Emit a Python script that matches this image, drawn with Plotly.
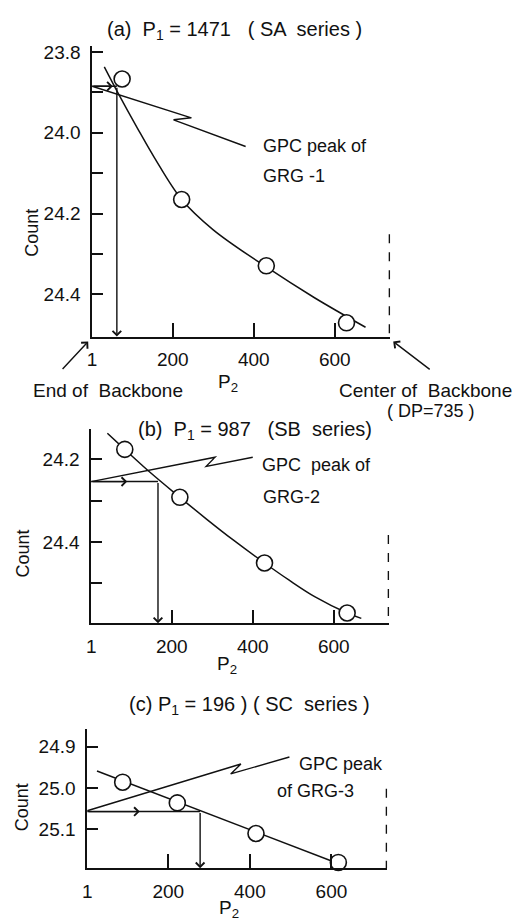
import plotly.graph_objects as go

# ---------------- data ----------------
# Panel (a)  P1 = 1471 (SA series)
a_p2 = [75, 222, 431, 629]
a_count = [23.867, 24.165, 24.329, 24.47]
a_curve_p2 = [31, 64, 113, 155, 222, 300, 431, 550, 676]
a_curve_count = [23.837, 23.900, 23.989, 24.062, 24.165, 24.240, 24.332, 24.408, 24.481]
a_peak_count = 23.885
a_peak_p2 = 62
a_leader_p2 = [1, 246, 202, 380]
a_leader_count = [23.885, 23.963, 23.968, 24.034]
a_yticks = [23.8, 23.9, 24.0, 24.1, 24.2, 24.3, 24.4]
a_yticktext = ["23.8", "", "24.0", "", "24.2", "", "24.4"]

# Panel (b)  P1 = 987 (SB series)
b_p2 = [84, 220, 429, 633]
b_count = [24.176, 24.292, 24.451, 24.572]
b_curve_p2 = [41, 84, 147, 220, 285, 350, 429, 489, 554, 633, 668]
b_curve_count = [24.137, 24.176, 24.232, 24.292, 24.344, 24.394, 24.451, 24.492, 24.533, 24.572, 24.585]
b_peak_count = 24.254
b_peak_p2 = 166
b_leader_p2 = [1, 307, 285, 400]
b_leader_count = [24.254, 24.195, 24.217, 24.195]
b_yticks = [24.2, 24.3, 24.4, 24.5]
b_yticktext = ["24.2", "", "24.4", ""]

# Panel (c)  P1 = 196 (SC series)
c_p2 = [88, 222, 415, 617]
c_count = [24.986, 25.036, 25.11, 25.18]
c_curve_p2 = [25, 610]
c_curve_count = [24.959, 25.18]
c_peak_count = 25.057
c_peak_p2 = 278
c_leader_p2 = [1, 378, 353, 497]
c_leader_count = [25.055, 24.942, 24.966, 24.925]
c_yticks = [24.9, 25.0, 25.1]
c_yticktext = ["24.9", "25.0", "25.1"]

x_ticks = [1, 200, 400, 600]
x_ticktext = ["1", "200", "400", "600"]
dp_center = 735

# ---------------- layout helpers ----------------
W, H = 517, 923
def px(x): return x / W
def py(y): return 1 - y / H

FONT = "Liberation Sans"
BLACK = "#111111"

panels = [
    dict(s="", p2=a_p2, cnt=a_count, cp2=a_curve_p2, ccnt=a_curve_count,
         pk=a_peak_count, pkx=a_peak_p2, lx=a_leader_p2, ly=a_leader_count,
         yt=a_yticks, ytt=a_yticktext, xdom=(88, 389), ydom=(334, 42),
         yr=[24.504, 23.785], dash_top=24.251, spline=True, arrow_mid=52),
    dict(s="2", p2=b_p2, cnt=b_count, cp2=b_curve_p2, ccnt=b_curve_count,
         pk=b_peak_count, pkx=b_peak_p2, lx=b_leader_p2, ly=b_leader_count,
         yt=b_yticks, ytt=b_yticktext, xdom=(87, 388), ydom=(622, 427),
         yr=[24.597, 24.127], dash_top=24.383, spline=True, arrow_mid=90),
    dict(s="3", p2=c_p2, cnt=c_count, cp2=c_curve_p2, ccnt=c_curve_count,
         pk=c_peak_count, pkx=c_peak_p2, lx=c_leader_p2, ly=c_leader_count,
         yt=c_yticks, ytt=c_yticktext, xdom=(83, 386), ydom=(868, 728),
         yr=[25.194, 24.857], dash_top=25.002, spline=False, arrow_mid=130),
]

fig = go.Figure()
shapes = []
annotations = []
layout = {}

for p in panels:
    s = p["s"]
    xa, ya = "x" + s, "y" + s
    fig.add_trace(go.Scatter(
        x=p["cp2"], y=p["ccnt"], mode="lines", xaxis=xa, yaxis=ya,
        line=dict(color=BLACK, width=1.5, shape="spline" if p["spline"] else "linear", smoothing=1.0),
        hoverinfo="skip", showlegend=False))
    fig.add_trace(go.Scatter(
        x=p["p2"], y=p["cnt"], mode="markers", xaxis=xa, yaxis=ya, cliponaxis=False,
        marker=dict(symbol="circle", size=16, color="white", line=dict(color=BLACK, width=1.6)),
        showlegend=False))

    layout["xaxis" + s] = dict(
        domain=[px(p["xdom"][0]), px(p["xdom"][1])], range=[1, 737], anchor=ya,
        tickvals=x_ticks, ticktext=x_ticktext, ticks="inside", ticklen=14, tickwidth=1.5,
        tickcolor=BLACK, showline=True, linecolor=BLACK, linewidth=1.6,
        showgrid=False, zeroline=False, ticklabelstandoff=5,
        tickfont=dict(family=FONT, size=19, color=BLACK))
    layout["yaxis" + s] = dict(
        domain=[py(p["ydom"][0]), py(p["ydom"][1])], range=p["yr"], anchor=xa,
        tickvals=p["yt"], ticktext=p["ytt"], ticks="inside", ticklen=11, tickwidth=1.5,
        tickcolor=BLACK, showline=True, linecolor=BLACK, linewidth=1.6,
        showgrid=False, zeroline=False, ticklabelstandoff=6,
        tickfont=dict(family=FONT, size=19, color=BLACK))

    # horizontal read line from the axis to the curve
    shapes.append(dict(type="line", xref=xa, yref=ya, x0=1, x1=p["pkx"], y0=p["pk"], y1=p["pk"],
                       line=dict(color=BLACK, width=1.5)))
    # arrowhead in the middle of the horizontal line
    annotations.append(dict(xref=xa, yref=ya, axref=xa, ayref=ya, x=p["arrow_mid"], y=p["pk"],
                            ax=1, ay=p["pk"], text="", showarrow=True, arrowhead=4,
                            arrowsize=1.2, arrowwidth=1.4, arrowcolor=BLACK))
    # vertical arrow down to the P2 axis
    annotations.append(dict(xref=xa, yref=ya, axref=xa, ayref=ya, x=p["pkx"], y=p["yr"][0],
                            ax=p["pkx"], ay=p["pk"], text="", showarrow=True, arrowhead=4,
                            arrowsize=1.2, arrowwidth=1.4, arrowcolor=BLACK))
    # leader line with zig-zag
    path = "M " + " L ".join(f"{x},{y}" for x, y in zip(p["lx"], p["ly"]))
    shapes.append(dict(type="path", xref=xa, yref=ya, path=path,
                       line=dict(color=BLACK, width=1.4)))
    # dashed line at the backbone centre
    shapes.append(dict(type="line", xref=xa, yref=ya, x0=dp_center, x1=dp_center,
                       y0=p["dash_top"], y1=p["yr"][0],
                       line=dict(color=BLACK, width=1.5, dash="dash")))

def txt(x, y, t, anchor="center", size=18, angle=0):
    annotations.append(dict(xref="paper", yref="paper", x=px(x), y=py(y), text=t,
                            showarrow=False, xanchor=anchor, yanchor="middle", textangle=angle,
                            font=dict(family=FONT, size=size, color=BLACK)))

# Panel (a) texts
txt(232, 27, "(a)  P<sub>1</sub> = 1471   ( SA  series )", size=20)
txt(258, 143, "GPC peak of", "left")
txt(258, 173, "GRG -1", "left")
txt(27, 230, "Count", angle=-90)
txt(104, 388, "End of  Backbone", size=19)
txt(225, 381, "P<sub>2</sub>", size=19)
txt(335, 388, "Center of  Backbone", "left", size=19)
txt(430, 409, "( DP=735 )", size=18)
annotations.append(dict(xref="paper", yref="paper", x=px(84), y=py(339), ax=-27, ay=29,
                        text="", showarrow=True, arrowhead=4, arrowsize=1.2, arrowwidth=1.4,
                        arrowcolor=BLACK))
annotations.append(dict(xref="paper", yref="paper", x=px(392), y=py(339), ax=38, ay=29,
                        text="", showarrow=True, arrowhead=4, arrowsize=1.2, arrowwidth=1.4,
                        arrowcolor=BLACK))

# Panel (b) texts
txt(252, 428, "(b)  P<sub>1</sub> = 987   (SB  series)", size=20)
txt(257, 463, "GPC  peak of", "left")
txt(258, 495, "GRG-2", "left")
txt(18, 552, "Count", angle=-90)
txt(224, 664, "P<sub>2</sub>", size=19)

# Panel (c) texts
txt(247, 705, "(c) P<sub>1</sub> = 196 ) ( SC  series )", size=20)
txt(295, 763, "GPC peak", "left")
txt(273, 790, "of GRG-3", "left")
txt(17, 807, "Count", angle=-90)
txt(226, 909, "P<sub>2</sub>", size=19)

fig.update_layout(
    width=W, height=H, margin=dict(l=0, r=0, t=0, b=0),
    paper_bgcolor="white", plot_bgcolor="white",
    shapes=shapes, annotations=annotations, showlegend=False,
    **layout)

fig.write_html("out.html")
